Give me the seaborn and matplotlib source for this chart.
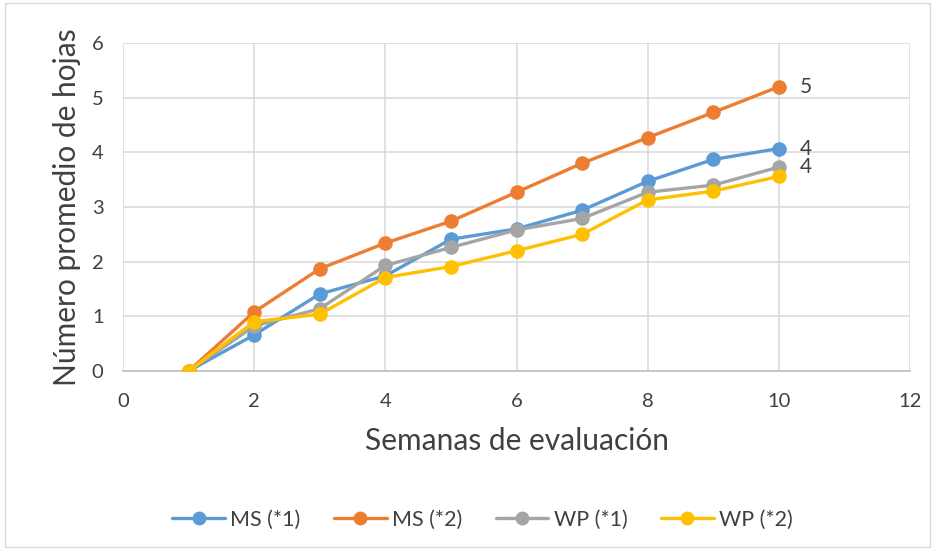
import numpy as np
import pandas as pd
import matplotlib
matplotlib.use("Agg")
import matplotlib.pyplot as plt
import seaborn as sns
from matplotlib.lines import Line2D

semanas = [1, 2, 3, 4, 5, 6, 7, 8, 9, 10]
ms1 = [0, 0.66, 1.41, 1.74, 2.41, 2.60, 2.94, 3.47, 3.87, 4.07]
ms2 = [0, 1.08, 1.87, 2.34, 2.74, 3.27, 3.80, 4.27, 4.73, 5.20]
wp1 = [0, 0.82, 1.14, 1.93, 2.26, 2.58, 2.79, 3.27, 3.40, 3.73]
wp2 = [0, 0.90, 1.04, 1.71, 1.91, 2.20, 2.50, 3.13, 3.29, 3.56]
series_names = ["MS (*1)", "MS (*2)", "WP (*1)", "WP (*2)"]
colors = ["#5B9BD5", "#ED7D31", "#A5A5A5", "#FFC000"]
end_labels = ["4", "5", "4", None]
xticks = [0, 2, 4, 6, 8, 10, 12]
yticks = [0, 1, 2, 3, 4, 5, 6]

sns.set_theme(style="white")
plt.rcParams['font.family'] = ['Lato', 'DejaVu Sans']

rows = []
for name, vals in zip(series_names, [ms1, ms2, wp1, wp2]):
    for s, v in zip(semanas, vals):
        rows.append({"Semana": s, "Valor": v, "Serie": name})
df = pd.DataFrame(rows)

fig = plt.figure(figsize=(9.35, 5.5), dpi=100)
ax = fig.add_axes([0.1316, 0.3255, 0.8417, 0.5963])

sns.lineplot(data=df, x="Semana", y="Valor", hue="Serie", hue_order=series_names,
             palette=colors, marker="o", markersize=10.5, markeredgewidth=0,
             linewidth=2.4, ax=ax, legend=False, zorder=3)

ax.set_xlim(0, 12)
ax.set_ylim(0, 6)
ax.set_xticks(xticks)
ax.set_yticks(yticks)
ax.grid(True, color="#D9D9D9", linewidth=1.1, zorder=0)
for sp in ["top", "right", "left"]:
    ax.spines[sp].set_visible(False)
ax.spines["bottom"].set_color("#BFBFBF")
ax.spines["bottom"].set_linewidth(1.2)
ax.tick_params(axis="x", length=0, labelsize=14.5, colors="#404040", pad=16)
ax.tick_params(axis="y", length=0, labelsize=14.5, colors="#404040", pad=14)
ax.set_xlabel("Semanas de evaluación", fontsize=21.5, color="#404040", labelpad=12)
ax.set_ylabel("Número promedio de hojas", fontsize=21.5, color="#404040", labelpad=8)

for name, vals, lab in zip(series_names, [ms1, ms2, wp1, wp2], end_labels):
    if lab is not None:
        ax.annotate(lab, (semanas[-1], vals[-1]), xytext=(15, 0), textcoords="offset points",
                    fontsize=15, color="#404040", va="center", ha="left")

handles = [Line2D([0], [0], color=c, lw=2.4, marker="o", markersize=10, markeredgewidth=0)
           for c in colors]
fig.legend(handles, series_names, loc="center", bbox_to_anchor=(0.516, 0.0545), ncol=4,
           frameon=False, fontsize=15.5, handlelength=2.45, columnspacing=1.55,
           labelcolor="#404040", handletextpad=0.25)

fig.patches.append(plt.Rectangle((0.005, 0.005), 0.99, 0.99, transform=fig.transFigure,
                                 fill=False, edgecolor="#D9D9D9", linewidth=1))

fig.savefig("out.png", dpi=100)
